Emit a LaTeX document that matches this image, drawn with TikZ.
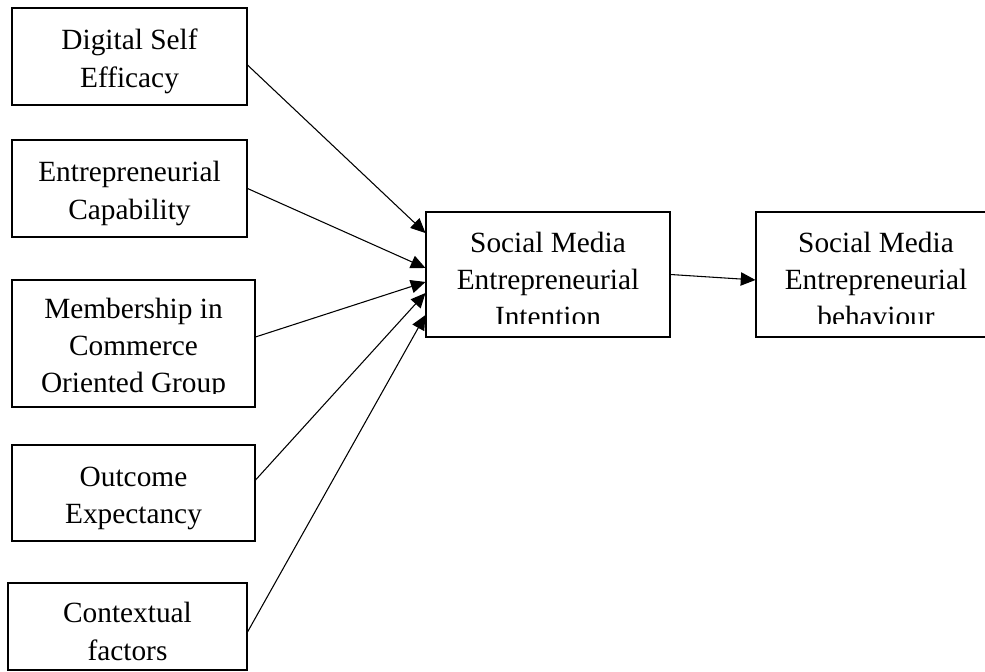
\documentclass[tikz,border=0pt]{standalone}
\usepackage{fontspec}
\setmainfont{Liberation Serif}
\usetikzlibrary{arrows.meta}

\newcommand{\boxfont}{\fontsize{22}{28}\selectfont}
\newcommand{\clipinset}{7.5pt}

\begin{document}
\begin{tikzpicture}[
    x=0.75pt, y=-0.75pt,
    inset/.code={\def\clipinset{#1}},
    cbox/.style={draw, line width=0.8pt, inner sep=0pt,
        path picture={
            \begin{scope}
                \clip (path picture bounding box.south west) ++(0,\clipinset) rectangle (path picture bounding box.north east);
                \node[anchor=north, align=center, inner sep=0pt, font=\boxfont]
                    at ([yshift=-1.15pt]path picture bounding box.north) {\strut #1};
            \end{scope}}},
    arrow/.style={-{Triangle[length=11pt, width=10pt]}, line width=0.8pt}
]
    \useasboundingbox (0,0) rectangle (985,671);

    % Predictor boxes
    \node[cbox={Digital Self\\Efficacy}, minimum width=176.25pt, minimum height=72.75pt] (dse) at (129.5,56.5) {};
    \node[cbox={Entrepreneurial\\Capability}, minimum width=176.25pt, minimum height=72.75pt] (ec) at (129.5,188.5) {};
    \node[inset=10.5pt, cbox={Membership in\\Commerce\\Oriented Group}, minimum width=182.25pt, minimum height=95.25pt] (mcog) at (133.5,343.5) {};
    \node[cbox={Outcome\\Expectancy}, minimum width=182.25pt, minimum height=72pt] (oe) at (133.5,493) {};
    \node[cbox={Contextual\\factors}, minimum width=179.25pt, minimum height=65.25pt] (cf) at (127.5,626.5) {};

    % Intention and behaviour
    \node[inset=10.5pt, cbox={Social Media\\Entrepreneurial\\Intention}, minimum width=183pt, minimum height=93.75pt] (smei) at (548,274.5) {};
    \node[inset=10.5pt, cbox={Social Media\\Entrepreneurial\\behaviour}, minimum width=180pt, minimum height=93.75pt] (smeb) at (876,274.5) {};

    % Connect boxes with arrows
    \draw[arrow] ([yshift=-6.4pt]dse.east) -- ([yshift=31.1pt]smei.west);
    \draw[arrow] (ec.east) -- ([yshift=4.9pt]smei.west);
    \draw[arrow] ([yshift=4.9pt]mcog.east) -- ([yshift=-5.6pt]smei.west);
    \draw[arrow] ([yshift=9.75pt]oe.east) -- ([yshift=-13.9pt]smei.west);
    \draw[arrow] ([yshift=-4.1pt]cf.east) -- ([yshift=-30.4pt]smei.west);
    \draw[arrow] (smei.east) -- ([yshift=-4.1pt]smeb.west);
\end{tikzpicture}
\end{document}
